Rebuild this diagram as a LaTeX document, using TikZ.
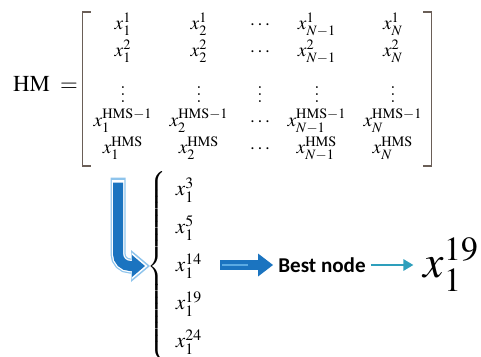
\documentclass[tikz,border=0pt]{standalone}
\usepackage{amsmath}
\usepackage{mathptmx}
\usepackage[no-math]{fontspec}
\newfontfamily\labelfont{Carlito}
\usepackage{tikz}
\usetikzlibrary{matrix, arrows.meta, positioning}
\definecolor{arrowblue}{HTML}{1B74C0}
\definecolor{glowblue}{HTML}{8EC4EC}
\definecolor{stripeblue}{HTML}{5BAAE2}
\definecolor{pointteal}{HTML}{2E9FBC}
\definecolor{brackgray}{HTML}{6A5E57}
\tikzstyle{hmmatrix} = [matrix of math nodes, nodes={inner sep=1pt, font=\fontsize{11}{13}\selectfont}, column sep={1.22cm,between origins}, row sep={0.54cm,between origins}]
\tikzstyle{brack} = [draw=brackgray, line width=0.9pt]
\tikzstyle{candmatrix} = [matrix of math nodes, left delimiter=\{, every delimiter/.style={brackgray, xshift=0.2cm}, row sep={0.76cm,between origins}, nodes={anchor=base west, inner sep=1pt}]
\tikzstyle{Lglow} = [draw=glowblue, line width=0.3cm, rounded corners=0.24cm, shorten <=-0.1cm, shorten >=-0.1cm, -{Triangle[length=0.38cm, width=0.64cm, line width=0pt]}]
\tikzstyle{Lhalo} = [draw=white, line width=0.25cm, rounded corners=0.24cm, shorten <=-0.05cm, shorten >=-0.05cm, -{Triangle[length=0.32cm, width=0.54cm, line width=0pt]}]
\tikzstyle{Lbody} = [draw=arrowblue, line width=0.2cm, rounded corners=0.24cm, -{Triangle[length=0.26cm, width=0.44cm, line width=0pt]}]
\tikzstyle{fatbody} = [draw=arrowblue, line width=0.2cm, -{Triangle[length=0.3cm, width=0.46cm, line width=0pt]}]
\tikzstyle{fatstripe} = [draw=stripeblue, line width=0.05cm]
\tikzstyle{pointer} = [draw=pointteal, line width=1.4pt, -{Triangle[length=0.2cm, width=0.22cm]}]

\begin{document}
\begin{tikzpicture}[x=0.02cm, y=-0.02cm, font=\fontsize{12}{14}\selectfont]
    \useasboundingbox (0,0) rectangle (481,356);
    \node (hm) [font=\fontsize{13}{15}\selectfont] at (48,84) {$\mathrm{HM}\;=\;$};
    \matrix (m) [hmmatrix] at (258,87) {
        x_1^{1} &[0.3cm] x_2^{1} & \cdots &[-0.08cm] x_{N-1}^{1} &[0.3cm] x_N^{1} \\
        x_1^{2} & x_2^{2} & \cdots & x_{N-1}^{2} & x_N^{2} \\[0.38cm]
        \vdots & \vdots & \vdots & \vdots & \vdots \\[-0.06cm]
        x_1^{\mathrm{HMS}-1} & x_2^{\mathrm{HMS}-1} & \cdots & x_{N-1}^{\mathrm{HMS}-1} & x_N^{\mathrm{HMS}-1} \\
        x_1^{\mathrm{HMS}} & x_2^{\mathrm{HMS}} & \cdots & x_{N-1}^{\mathrm{HMS}} & x_N^{\mathrm{HMS}} \\
    };
    \matrix (cand) [candmatrix, anchor=west] at (168,266) {
        x_1^{3} \\
        x_1^{5} \\
        x_1^{14} \\
        x_1^{19} \\
        x_1^{24} \\
    };
    \node (best) [font=\fontsize{12}{14}\labelfont\bfseries, inner sep=0.1cm] at (322,265) {Best node};
    \node (final) [right=0.85cm of best, inner sep=0.2cm, font=\fontsize{26}{30}\selectfont] {$x_1^{19}$};
    \coordinate (drop) at ([xshift=-0.1cm, yshift=-0.42cm]m-5-1.south);

    % matrix brackets
    \draw [brack] ([xshift=0.1cm, yshift=-0.14cm]m.north west) -| ([xshift=-0.06cm, yshift=0.06cm]m.south west) -- ([xshift=0.1cm, yshift=0.06cm]m.south west);
    \draw [brack] ([xshift=-0.14cm, yshift=-0.14cm]m.north east) -| ([xshift=0.02cm, yshift=0.06cm]m.south east) -- ([xshift=-0.14cm, yshift=0.06cm]m.south east);

    \draw [Lglow] (drop) |- ([xshift=-0.46cm]cand.west);
    \draw [Lhalo] (drop) |- ([xshift=-0.46cm]cand.west);
    \draw [Lbody] (drop) |- ([xshift=-0.46cm]cand.west);
    \draw [fatbody] ([xshift=0.2cm]cand.east |- best) -- (best.west);
    \draw [fatstripe] ([xshift=0.24cm]cand.east |- best) -- ([xshift=-0.5cm]best.west);
    \draw [pointer] (best) -- (final);
\end{tikzpicture}
\end{document}
